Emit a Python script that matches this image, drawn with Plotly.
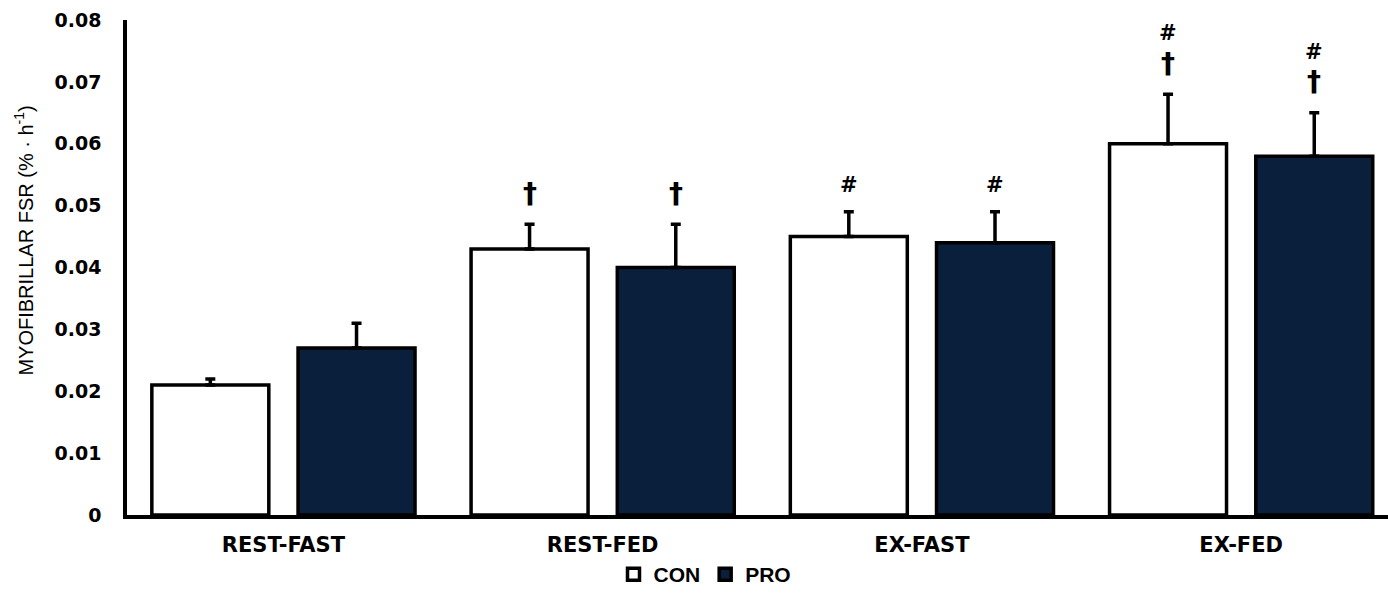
import plotly.graph_objects as go

categories = ["REST-FAST", "REST-FED", "EX-FAST", "EX-FED"]
con_values = [0.021, 0.043, 0.045, 0.060]
con_errors = [0.001, 0.004, 0.004, 0.008]
pro_values = [0.027, 0.040, 0.044, 0.058]
pro_errors = [0.004, 0.007, 0.005, 0.007]
# significance markers per bar
con_dagger = [False, True, False, True]
con_hash = [False, False, True, True]
pro_dagger = [False, True, False, True]
pro_hash = [False, False, True, True]
y_tickvals = [0, 0.01, 0.02, 0.03, 0.04, 0.05, 0.06, 0.07, 0.08]
y_ticktext = ["0", "0.01", "0.02", "0.03", "0.04", "0.05", "0.06", "0.07", "0.08"]

NAVY = "#0a1f3b"
BARGAP = 0.084
BARGROUPGAP = 0.2
offset = (1 - BARGAP) / 4

fig = go.Figure()
fig.add_trace(go.Bar(
    x=categories, y=con_values, name="CON",
    marker=dict(color="white", line=dict(color="black", width=3.5)),
    error_y=dict(type="data", array=con_errors, arrayminus=[0] * len(con_errors),
                 symmetric=False, color="black", thickness=3.5, width=5),
))
fig.add_trace(go.Bar(
    x=categories, y=pro_values, name="PRO",
    marker=dict(color=NAVY, line=dict(color="black", width=3.5)),
    error_y=dict(type="data", array=pro_errors, arrayminus=[0] * len(pro_errors),
                 symmetric=False, color="black", thickness=3.5, width=5),
))

annotations = []
def add_marks(vals, errs, daggers, hashes, shift):
    for i, (v, e, d, h) in enumerate(zip(vals, errs, daggers, hashes)):
        top = v + e
        x = i + shift
        if d:
            annotations.append(dict(x=x, y=top, xref="x", yref="y", text="<b>†</b>",
                                    showarrow=False, yanchor="middle", yshift=31,
                                    font=dict(family="DejaVu Sans", size=28, color="black")))
        if h:
            annotations.append(dict(x=x, y=top, xref="x", yref="y", text="<b>#</b>",
                                    showarrow=False, yanchor="middle",
                                    yshift=61 if d else 27,
                                    font=dict(family="DejaVu Sans", size=21, color="black")))

add_marks(con_values, con_errors, con_dagger, con_hash, -offset)
add_marks(pro_values, pro_errors, pro_dagger, pro_hash, offset)

annotations.append(dict(
    x=0, xref="paper", xshift=-103, xanchor="center",
    y=(516 - 241) / 496, yref="paper", yanchor="middle",
    text="MYOFIBRILLAR FSR (% · h<sup>-1</sup>)", textangle=-90, showarrow=False,
    font=dict(family="Liberation Sans", size=20, color="black"),
))

fig.update_layout(
    width=1388, height=595,
    margin=dict(l=127, r=0, t=20, b=79),
    paper_bgcolor="white", plot_bgcolor="white",
    barmode="group", bargap=BARGAP, bargroupgap=BARGROUPGAP,
    showlegend=True,
    legend=dict(orientation="h", x=(705 - 127) / 1261, xanchor="center",
                y=(516 - 576) / 496, yanchor="middle",
                font=dict(family="Liberation Sans", size=21, color="black", weight="bold"),
                itemwidth=30, tracegroupgap=0),
    annotations=annotations,
    xaxis=dict(
        type="category", range=[-0.49, 3.46], automargin=False,
        showline=True, linewidth=3.5, linecolor="black",
        ticks="", showgrid=False, zeroline=False,
        tickfont=dict(family="DejaVu Sans", size=21, color="black", weight="bold"),
        ticklabelstandoff=8,
    ),
    yaxis=dict(
        range=[0, 0.08], automargin=False,
        tickvals=y_tickvals, ticktext=y_ticktext,
        showline=True, linewidth=3.5, linecolor="black",
        ticks="", showgrid=False, zeroline=False,
        tickfont=dict(family="DejaVu Sans", size=19, color="black", weight="bold"),
        ticklabelstandoff=18,
    ),
)

fig.write_html("out.html", config={"displayModeBar": False},
               post_script="document.body.style.margin='0px';")
